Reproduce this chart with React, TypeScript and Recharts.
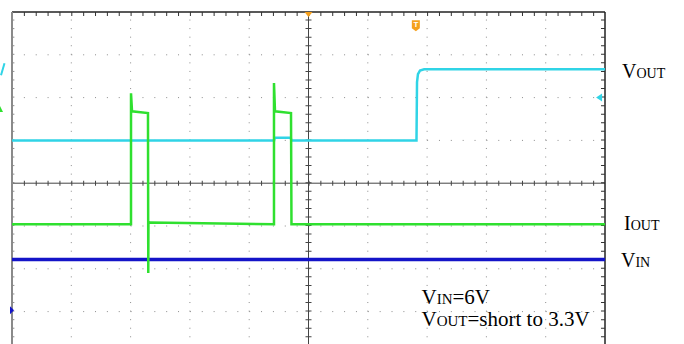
import { ComposedChart, Line, XAxis, YAxis, ReferenceLine, ReferenceDot } from "recharts"

// traces in scope divisions: t = horizontal div (0..10), v = vertical div (-4..4)
const voutTrace = [
  { t: 0, v: 1.0 },
  { t: 4.42, v: 1.0 },
  { t: 4.43, v: 1.06 },
  { t: 4.7, v: 1.06 },
  { t: 4.71, v: 1.0 },
  { t: 6.821, v: 1.0 },
  { t: 6.83, v: 2.36 },
  { t: 6.846, v: 2.55 },
  { t: 6.88, v: 2.63 },
  { t: 6.95, v: 2.66 },
  { t: 10, v: 2.66 },
]

const ioutTrace = [
  { t: 0, v: -0.96 },
  { t: 2.007, v: -0.96 },
  { t: 2.007, v: 2.1 },
  { t: 2.024, v: 1.68 },
  { t: 2.293, v: 1.64 },
  { t: 2.298, v: -2.1 },
  { t: 2.301, v: -0.93 },
  { t: 2.322, v: -0.92 },
  { t: 4.418, v: -0.96 },
  { t: 4.418, v: 2.34 },
  { t: 4.435, v: 1.68 },
  { t: 4.705, v: 1.64 },
  { t: 4.713, v: -0.96 },
  { t: 10, v: -0.96 },
]

const vinTrace = [
  { t: 0, v: -1.78 },
  { t: 10, v: -1.78 },
]

const gridX = [1, 2, 3, 4, 6, 7, 8, 9]
const gridY = [-3, -2, -1, 1, 2, 3]

const CYAN = "#30d4e6"
const GREEN = "#2fe02f"
const BLUE = "#1414c8"
const ORANGE = "#f5a01e"
const serif = "'Liberation Serif', 'Times New Roman', serif"

const App = () => {
  return (
    <div
      style={{
        position: "absolute",
        left: 0,
        top: 0,
        width: 684,
        height: 344,
        overflow: "hidden",
        background: "#fff",
      }}
    >
      <ComposedChart width={684} height={360} margin={{ top: 12, right: 79, bottom: 5.6, left: 12 }}>
        <XAxis type="number" dataKey="t" domain={[0, 10]} hide allowDataOverflow />
        <YAxis type="number" dataKey="v" domain={[-4, 4]} hide allowDataOverflow />

        {/* dotted graticule */}
        {gridY.map((y) => (
          <ReferenceLine key={"gy" + y} y={y} stroke="#8c8c8c" strokeDasharray="1 10.86" />
        ))}
        {gridX.map((x) => (
          <ReferenceLine key={"gx" + x} x={x} stroke="#8c8c8c" strokeDasharray="1 7.56" />
        ))}

        {/* centre cross with ticks */}
        <ReferenceLine y={0} stroke="#444" />
        <ReferenceLine y={0} stroke="#444" strokeWidth={5} strokeDasharray="1 10.86" />
        <ReferenceLine x={5} stroke="#444" />
        <ReferenceLine x={5} stroke="#444" strokeWidth={6} strokeDasharray="1 7.56" />

        {/* frame */}
        <ReferenceLine y={4} stroke="#222" strokeWidth={1.5} ifOverflow="visible" />
        <ReferenceLine y={3.953} stroke="#333" strokeWidth={4} strokeDasharray="1 10.86" />
        <ReferenceLine x={10} stroke="#222" strokeWidth={1.5} ifOverflow="visible" />
        <ReferenceLine x={9.966} stroke="#333" strokeWidth={4} strokeDasharray="1 7.56" />
        <ReferenceLine x={0} stroke="#8a8a8a" strokeWidth={2} ifOverflow="visible" />
        <ReferenceLine x={0.03} stroke="#666" strokeDasharray="1 7.56" />

        <Line data={vinTrace} dataKey="v" stroke={BLUE} strokeWidth={3.5} dot={false} isAnimationActive={false} />
        <Line data={voutTrace} dataKey="v" stroke={CYAN} strokeWidth={2.5} dot={false} isAnimationActive={false} />
        <Line data={ioutTrace} dataKey="v" stroke={GREEN} strokeWidth={2.5} dot={false} isAnimationActive={false} />

        {/* trigger position marker */}
        <ReferenceDot
          x={5}
          y={4}
          ifOverflow="visible"
          shape={(p: any) => (
            <polygon points={`${p.cx - 4},${p.cy} ${p.cx + 4},${p.cy} ${p.cx},${p.cy + 5}`} fill={ORANGE} />
          )}
        />
        <ReferenceDot
          x={6.81}
          y={3.69}
          ifOverflow="visible"
          shape={(p: any) => (
            <g>
              <path
                d={`M${p.cx - 4},${p.cy - 5} H${p.cx + 4} V${p.cy + 3} L${p.cx},${p.cy + 6} L${p.cx - 4},${p.cy + 3} Z`}
                fill={ORANGE}
              />
              <text x={p.cx} y={p.cy + 2} textAnchor="middle" fontSize={8} fontWeight="bold" fill="#fff" fontFamily="Arial">
                T
              </text>
            </g>
          )}
        />
        {/* trigger level arrow */}
        <ReferenceDot
          x={9.9}
          y={2.0}
          ifOverflow="visible"
          shape={(p: any) => (
            <polygon points={`${p.cx - 3},${p.cy} ${p.cx + 3},${p.cy - 4} ${p.cx + 3},${p.cy + 4}`} fill={CYAN} />
          )}
        />
        {/* channel markers on the left */}
        <ReferenceDot
          x={0}
          y={2.687}
          ifOverflow="visible"
          shape={(p: any) => (
            <line x1={p.cx - 7.5} y1={p.cy - 5} x2={p.cx - 11} y2={p.cy + 7} stroke={CYAN} strokeWidth={2} />
          )}
        />
        <ReferenceDot
          x={0}
          y={1.71}
          ifOverflow="visible"
          shape={(p: any) => (
            <polygon points={`${p.cx - 12},${p.cy - 4} ${p.cx - 9},${p.cy + 2} ${p.cx - 12},${p.cy + 2}`} fill={GREEN} />
          )}
        />
        <ReferenceDot
          x={0}
          y={-2.967}
          ifOverflow="visible"
          shape={(p: any) => (
            <polygon points={`${p.cx - 2},${p.cy - 4} ${p.cx + 2},${p.cy} ${p.cx - 2},${p.cy + 4}`} fill={BLUE} />
          )}
        />
      </ComposedChart>

      <svg
        width={684}
        height={344}
        style={{ position: "absolute", left: 0, top: 0, pointerEvents: "none" }}
        fontFamily={serif}
        fill="#000"
      >
        <text x={622} y={78}>
          <tspan fontSize={20}>V</tspan>
          <tspan fontSize={14}>OUT</tspan>
        </text>
        <text x={624} y={230}>
          <tspan fontSize={20}>I</tspan>
          <tspan fontSize={14}>OUT</tspan>
        </text>
        <text x={621} y={266.5}>
          <tspan fontSize={20}>V</tspan>
          <tspan fontSize={14}>IN</tspan>
        </text>
        <text x={421.5} y={303.5}>
          <tspan fontSize={21}>V</tspan>
          <tspan fontSize={15}>IN</tspan>
          <tspan fontSize={21}>=6V</tspan>
        </text>
        <text x={421.5} y={326}>
          <tspan fontSize={21}>V</tspan>
          <tspan fontSize={15}>OUT</tspan>
          <tspan fontSize={21}>=short to 3.3V</tspan>
        </text>
      </svg>
    </div>
  )
}

export default App
